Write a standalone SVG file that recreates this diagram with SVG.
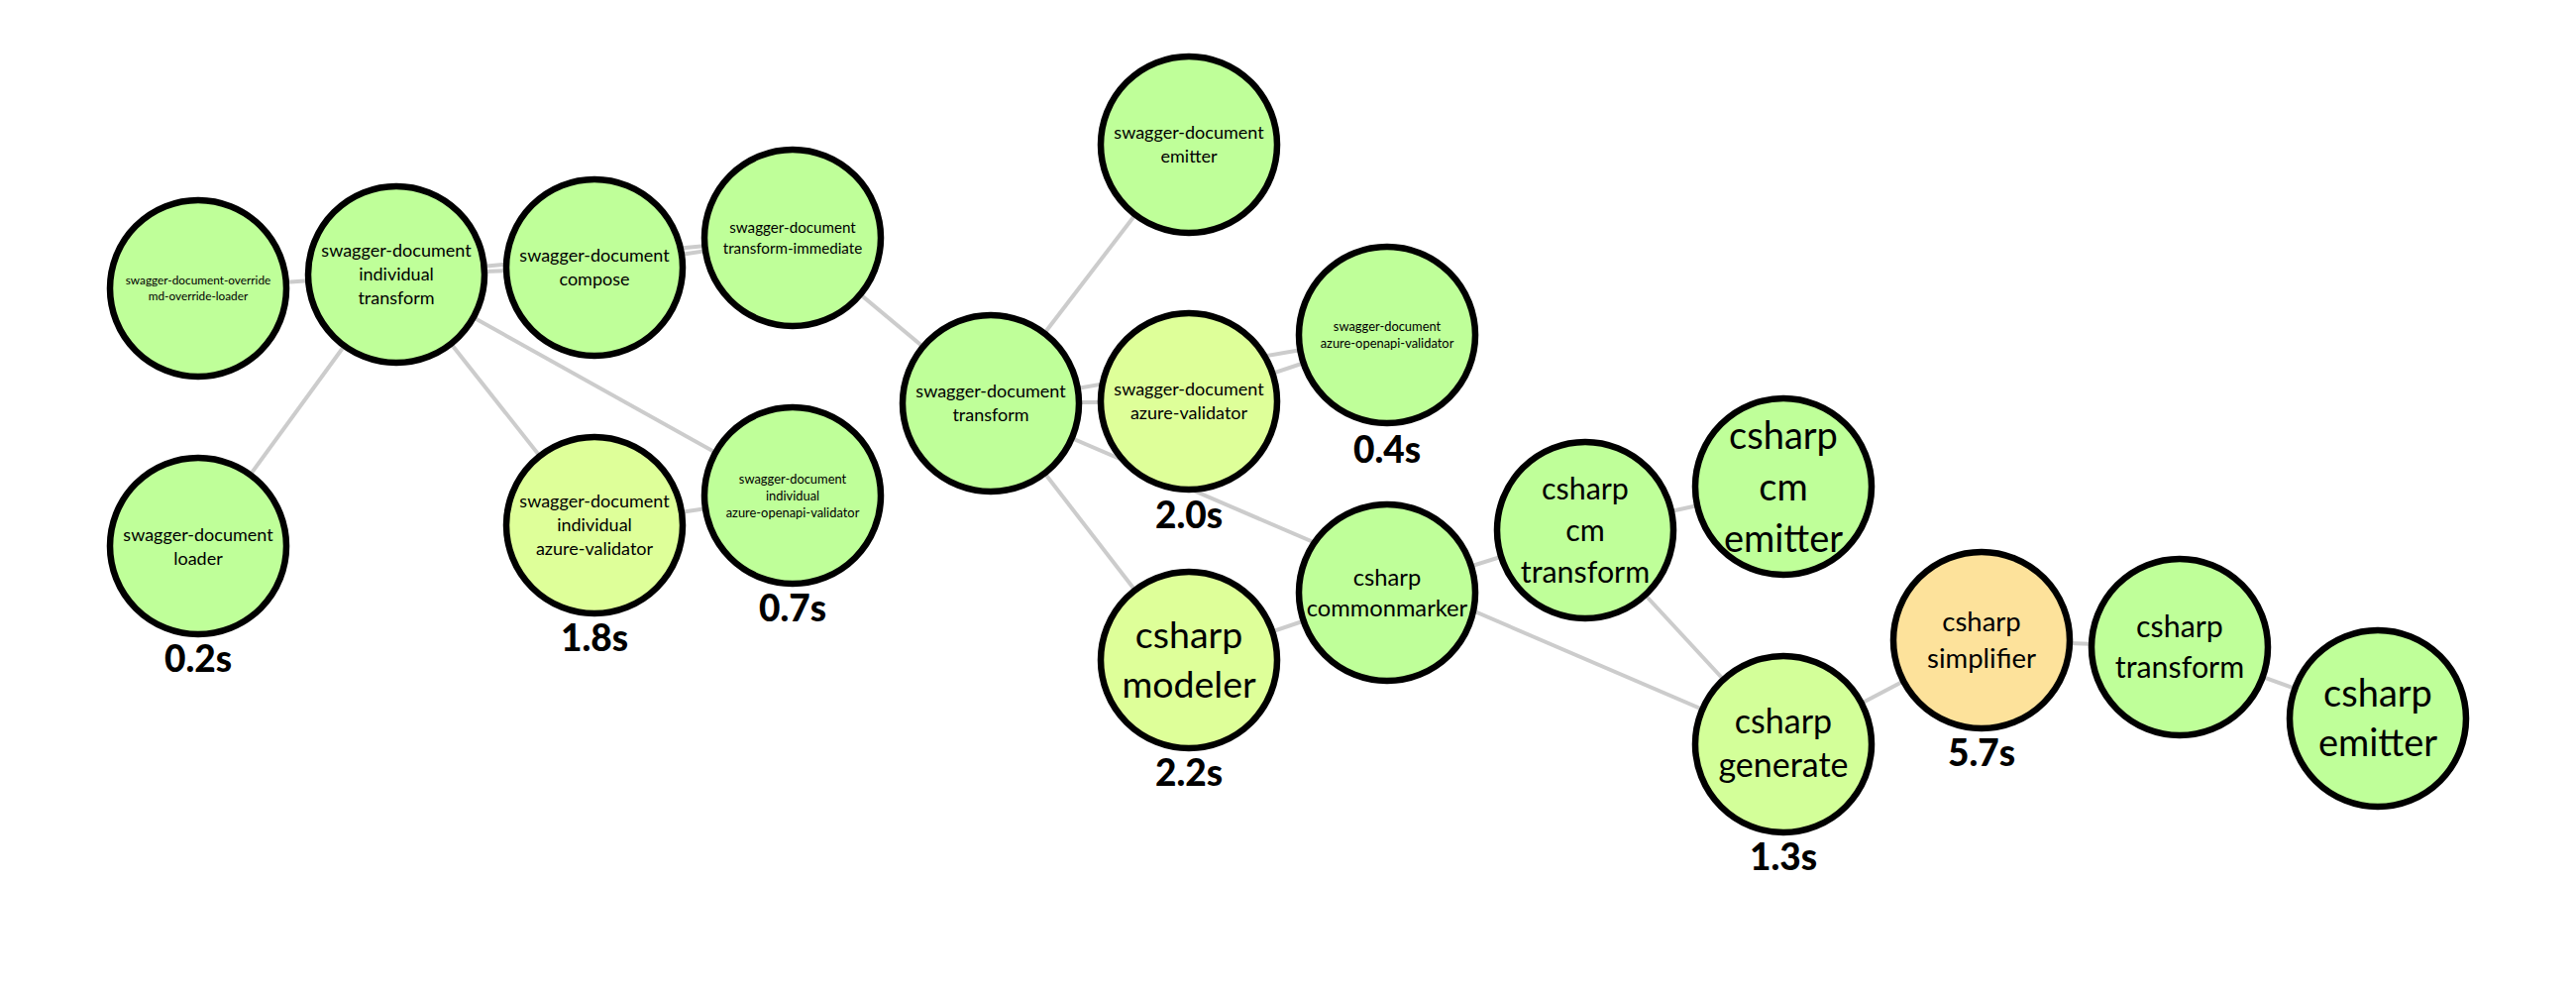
<svg xmlns="http://www.w3.org/2000/svg" width="2600" height="1000" viewBox="0 0 2600 1000">
<style>
  .edge { stroke: #cccccc; stroke-width: 4; fill: none; }
  .node circle { stroke: #000000; stroke-width: 6.5; }
  .g { fill: #bfff99; }
  .y { fill: #deff99; }
  .yg { fill: #d3ff99; }
  .o { fill: #fde29b; }
  .node text { font-family: "Lato", "Open Sans", "Liberation Sans", sans-serif; fill: #000; text-anchor: middle; }
  .time { font-family: "Lato", "Liberation Sans", sans-serif; font-weight: 900; font-size: 37px; fill: #000; text-anchor: middle; }
</style>
<rect width="2600" height="1000" fill="#ffffff"/>
<g id="connectors">
  <line class="edge" x1="200" y1="291" x2="400" y2="277"/>
  <line class="edge" x1="200" y1="551" x2="400" y2="277"/>
  <line class="edge" x1="400" y1="277" x2="600" y2="270"/>
  <line class="edge" x1="400" y1="277" x2="800" y2="240"/>
  <line class="edge" x1="600" y1="270" x2="800" y2="240"/>
  <line class="edge" x1="400" y1="277" x2="600" y2="530"/>
  <line class="edge" x1="400" y1="277" x2="800" y2="500"/>
  <line class="edge" x1="600" y1="530" x2="800" y2="500"/>
  <line class="edge" x1="800" y1="240" x2="1000" y2="407"/>
  <line class="edge" x1="1000" y1="407" x2="1200" y2="146"/>
  <line class="edge" x1="1000" y1="407" x2="1200" y2="405"/>
  <line class="edge" x1="1000" y1="407" x2="1400" y2="338"/>
  <line class="edge" x1="1200" y1="405" x2="1400" y2="338"/>
  <line class="edge" x1="1000" y1="407" x2="1200" y2="666"/>
  <line class="edge" x1="1000" y1="407" x2="1800" y2="751"/>
  <line class="edge" x1="1200" y1="666" x2="1400" y2="598"/>
  <line class="edge" x1="1400" y1="598" x2="1600" y2="535"/>
  <line class="edge" x1="1600" y1="535" x2="1800" y2="491"/>
  <line class="edge" x1="1600" y1="535" x2="1800" y2="751"/>
  <line class="edge" x1="1800" y1="751" x2="2000" y2="646"/>
  <line class="edge" x1="2000" y1="646" x2="2200" y2="653"/>
  <line class="edge" x1="2200" y1="653" x2="2400" y2="725"/>
</g>
<g id="nodes">
  <g id="n-override" class="node">
    <circle class="g" cx="200" cy="291" r="89"/>
    <text font-size="11.8"><tspan x="200" y="287">swagger-document-override</tspan><tspan x="200" y="303">md-override-loader</tspan></text>
  </g>
  <g id="n-loader" class="node">
    <circle class="g" cx="200" cy="551" r="89"/>
    <text font-size="18"><tspan x="200" y="545.5">swagger-document</tspan><tspan x="200" y="569.5">loader</tspan></text>
    <text class="time" x="200" y="678">0.2s</text>
  </g>
  <g id="n-individual-transform" class="node">
    <circle class="g" cx="400" cy="277" r="89"/>
    <text font-size="18"><tspan x="400" y="259">swagger-document</tspan><tspan x="400" y="283">individual</tspan><tspan x="400" y="307">transform</tspan></text>
  </g>
  <g id="n-compose" class="node">
    <circle class="g" cx="600" cy="270" r="89"/>
    <text font-size="18"><tspan x="600" y="264">swagger-document</tspan><tspan x="600" y="288">compose</tspan></text>
  </g>
  <g id="n-individual-azure-validator" class="node">
    <circle class="y" cx="600" cy="530" r="89"/>
    <text font-size="18"><tspan x="600" y="512">swagger-document</tspan><tspan x="600" y="536">individual</tspan><tspan x="600" y="560">azure-validator</tspan></text>
    <text class="time" x="600" y="657">1.8s</text>
  </g>
  <g id="n-transform-immediate" class="node">
    <circle class="g" cx="800" cy="240" r="89"/>
    <text font-size="15.2"><tspan x="800" y="235">swagger-document</tspan><tspan x="800" y="255.5">transform-immediate</tspan></text>
  </g>
  <g id="n-individual-azure-openapi-validator" class="node">
    <circle class="g" cx="800" cy="500" r="89"/>
    <text font-size="12.9"><tspan x="800" y="487.5">swagger-document</tspan><tspan x="800" y="504.5">individual</tspan><tspan x="800" y="521.5">azure-openapi-validator</tspan></text>
    <text class="time" x="800" y="627">0.7s</text>
  </g>
  <g id="n-transform" class="node">
    <circle class="g" cx="1000" cy="407" r="89"/>
    <text font-size="18"><tspan x="1000" y="401">swagger-document</tspan><tspan x="1000" y="425">transform</tspan></text>
  </g>
  <g id="n-emitter" class="node">
    <circle class="g" cx="1200" cy="146" r="89"/>
    <text font-size="18"><tspan x="1200" y="140">swagger-document</tspan><tspan x="1200" y="164">emitter</tspan></text>
  </g>
  <g id="n-azure-validator" class="node">
    <circle class="y" cx="1200" cy="405" r="89"/>
    <text font-size="18"><tspan x="1200" y="399">swagger-document</tspan><tspan x="1200" y="423">azure-validator</tspan></text>
    <text class="time" x="1200" y="533">2.0s</text>
  </g>
  <g id="n-csharp-modeler" class="node">
    <circle class="y" cx="1200" cy="666" r="89"/>
    <text font-size="37.5"><tspan x="1200" y="654">csharp</tspan><tspan x="1200" y="704">modeler</tspan></text>
    <text class="time" x="1200" y="793">2.2s</text>
  </g>
  <g id="n-azure-openapi-validator" class="node">
    <circle class="g" cx="1400" cy="338" r="89"/>
    <text font-size="12.9"><tspan x="1400" y="334">swagger-document</tspan><tspan x="1400" y="351">azure-openapi-validator</tspan></text>
    <text class="time" x="1400" y="467">0.4s</text>
  </g>
  <g id="n-csharp-commonmarker" class="node">
    <circle class="g" cx="1400" cy="598" r="89"/>
    <text font-size="23.7"><tspan x="1400" y="591">csharp</tspan><tspan x="1400" y="622">commonmarker</tspan></text>
  </g>
  <g id="n-csharp-cm-transform" class="node">
    <circle class="g" cx="1600" cy="535" r="89"/>
    <text font-size="30.4"><tspan x="1600" y="503.5">csharp</tspan><tspan x="1600" y="545.5">cm</tspan><tspan x="1600" y="587.5">transform</tspan></text>
  </g>
  <g id="n-csharp-cm-emitter" class="node">
    <circle class="g" cx="1800" cy="491" r="89"/>
    <text font-size="38"><tspan x="1800" y="453">csharp</tspan><tspan x="1800" y="505">cm</tspan><tspan x="1800" y="557">emitter</tspan></text>
  </g>
  <g id="n-csharp-generate" class="node">
    <circle class="yg" cx="1800" cy="751" r="89"/>
    <text font-size="34"><tspan x="1800" y="740">csharp</tspan><tspan x="1800" y="784">generate</tspan></text>
    <text class="time" x="1800" y="878">1.3s</text>
  </g>
  <g id="n-csharp-simplifier" class="node">
    <circle class="o" cx="2000" cy="646" r="89"/>
    <text font-size="27.5"><tspan x="2000" y="637">csharp</tspan><tspan x="2000" y="674">simplifier</tspan></text>
    <text class="time" x="2000" y="773">5.7s</text>
  </g>
  <g id="n-csharp-transform" class="node">
    <circle class="g" cx="2200" cy="653" r="89"/>
    <text font-size="30.4"><tspan x="2200" y="642.5">csharp</tspan><tspan x="2200" y="684">transform</tspan></text>
  </g>
  <g id="n-csharp-emitter" class="node">
    <circle class="g" cx="2400" cy="725" r="89"/>
    <text font-size="38"><tspan x="2400" y="713">csharp</tspan><tspan x="2400" y="763">emitter</tspan></text>
  </g>
</g>
</svg>
